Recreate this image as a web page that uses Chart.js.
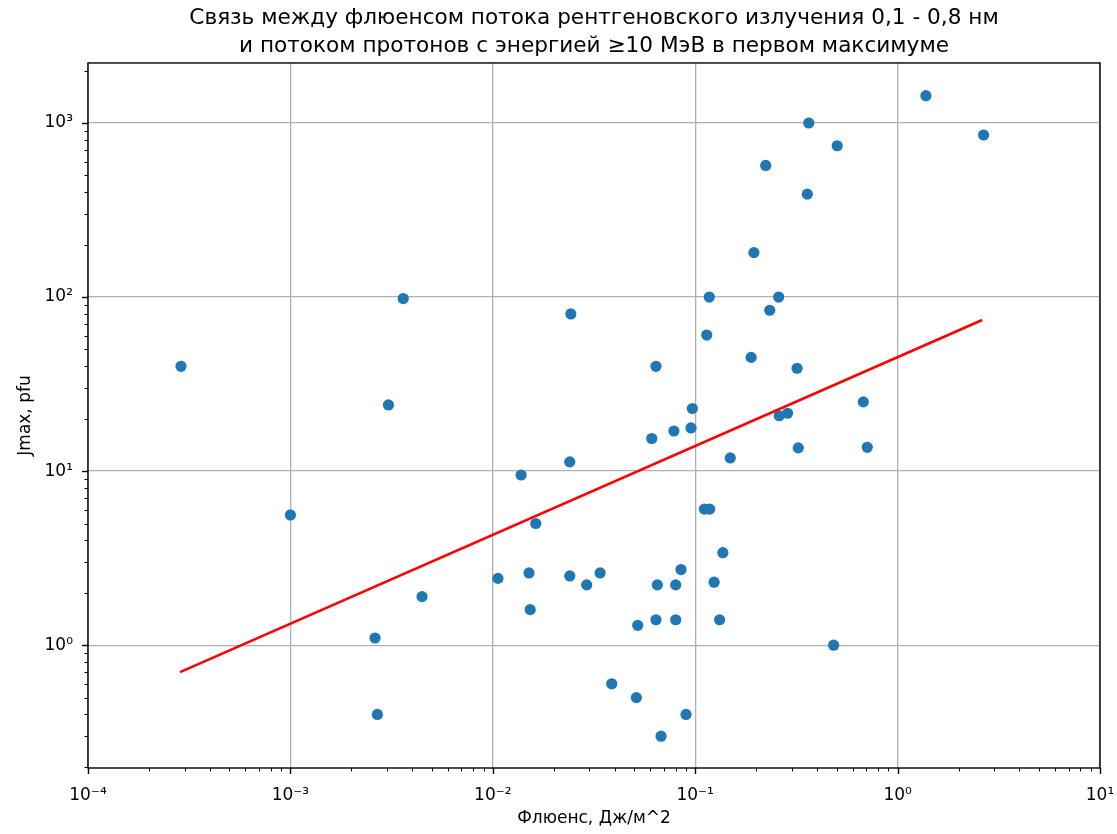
<!DOCTYPE html>
<html>
<head>
<meta charset="utf-8">
<script src="https://cdn.jsdelivr.net/npm/chart.js@4/dist/chart.umd.min.js"></script>
<style>
  html, body { margin: 0; padding: 0; background: #fff; }
  #wrap { width: 1117px; height: 834px; }
</style>
</head>
<body>
<div id="wrap"><canvas id="c" width="1117" height="834"></canvas></div>
<script>
// fluence (J/m^2) and peak proton flux (pfu)
const fluence = [
  2.88e-4, 1.0e-3, 2.62e-3, 2.69e-3, 3.05e-3, 3.61e-3, 4.47e-3,
  0.0106, 0.0138, 0.0151, 0.0153, 0.0163, 0.0240, 0.0240, 0.0243, 0.0291, 0.0339, 0.0387,
  0.0512, 0.0520, 0.0610, 0.0640, 0.0640, 0.0650, 0.0678, 0.0785, 0.0801, 0.0801, 0.0851,
  0.0901, 0.0953, 0.0968, 0.111, 0.118, 0.114, 0.1174, 0.124, 0.132, 0.137, 0.149,
  0.189, 0.195, 0.223, 0.2335, 0.2585, 0.260, 0.286, 0.3186, 0.323, 0.358, 0.364,
  0.483, 0.503, 0.677, 0.708, 1.38, 2.66
];
const jmax = [
  40, 5.6, 1.1, 0.40, 24, 98, 1.9,
  2.42, 9.5, 2.6, 1.6, 5.0, 11.3, 2.5, 80, 2.22, 2.6, 0.6,
  0.5, 1.3, 15.4, 1.4, 40, 2.22, 0.3, 17, 2.22, 1.4, 2.72,
  0.4, 17.7, 22.9, 6.05, 6.05, 60.5, 100, 2.3, 1.4, 3.4, 11.9,
  45, 180, 570, 84, 100, 20.8, 21.5, 39, 13.6, 390, 1000,
  1.0, 740, 25, 13.7, 1435, 853
];
// fitted power law, end points
const fitX = [2.85e-4, 2.62];
const fitY = [0.70, 73.8];

const xTickValues = [1e-4, 1e-3, 1e-2, 1e-1, 1, 10];
const xTickLabels = ['10⁻⁴', '10⁻³', '10⁻²', '10⁻¹', '10⁰', '10¹'];
const yTickValues = [1, 10, 100, 1000];
const yTickLabels = ['10⁰', '10¹', '10²', '10³'];

const FONT = 'DejaVu Sans';

// major ticks at decades + minor ticks 2..9 inside the axis range
function logTicks(min, max, majors) {
  const out = [];
  const lo = Math.floor(Math.log10(min)), hi = Math.ceil(Math.log10(max));
  for (let e = lo; e <= hi; e++) {
    for (let m = 1; m <= 9; m++) {
      const v = m * Math.pow(10, e);
      if (v < min * 0.999 || v > max * 1.001) continue;
      const maj = m === 1 ? majors.find(t => Math.abs(t - v) / v < 1e-9) : undefined;
      out.push({ value: maj !== undefined ? maj : v, major: maj !== undefined });
    }
  }
  return out;
}

function labelFor(values, labels) {
  return function(value) {
    const i = values.findIndex(t => Math.abs(t - value) / t < 1e-9);
    return i >= 0 ? labels[i] : '';
  };
}

const frame = {
  id: 'frame',
  afterDraw(chart) {
    const { ctx, chartArea: a, scales } = chart;
    ctx.save();
    ctx.strokeStyle = '#000';
    scales.x.ticks.forEach(t => {
      const px = Math.round(scales.x.getPixelForValue(t.value)) + 0.5;
      ctx.lineWidth = t.major ? 1.4 : 1;
      ctx.beginPath();
      ctx.moveTo(px, a.bottom);
      ctx.lineTo(px, a.bottom + (t.major ? 6 : 3.5));
      ctx.stroke();
    });
    scales.y.ticks.forEach(t => {
      const py = Math.round(scales.y.getPixelForValue(t.value)) + 0.5;
      ctx.lineWidth = t.major ? 1.4 : 1;
      ctx.beginPath();
      ctx.moveTo(a.left, py);
      ctx.lineTo(a.left - (t.major ? 6 : 3.5), py);
      ctx.stroke();
    });
    ctx.lineWidth = 1.4;
    ctx.strokeRect(a.left, a.top, a.right - a.left, a.bottom - a.top);
    ctx.restore();
  }
};

const gridColor = c => (c.tick && c.tick.major) ? '#b0b0b0' : 'rgba(0,0,0,0)';

new Chart(document.getElementById('c'), {
  type: 'scatter',
  data: {
    datasets: [
      {
        label: 'fit',
        data: fitX.map((x, i) => ({ x, y: fitY[i] })),
        showLine: true,
        borderColor: '#ff0000',
        borderWidth: 2.6,
        pointRadius: 0,
        order: 0
      },
      {
        label: 'events',
        data: fluence.map((x, i) => ({ x, y: jmax[i] })),
        backgroundColor: '#1f77b4',
        borderWidth: 0,
        pointRadius: 5.6,
        order: 1
      }
    ]
  },
  options: {
    responsive: false,
    animation: false,
    layout: { padding: { left: 0, right: 17, top: 0, bottom: 0 } },
    plugins: {
      legend: { display: false },
      tooltip: { enabled: false },
      title: {
        display: true,
        fullSize: false,
        text: ['Связь между флюенсом потока рентгеновского излучения 0,1 - 0,8 нм',
               'и потоком протонов с энергией ≥10 МэВ в первом максимуме'],
        color: '#000',
        font: { family: FONT, size: 21.6, weight: 'normal', lineHeight: 1.3 },
        padding: { top: 4, bottom: 2.8 }
      }
    },
    scales: {
      x: {
        type: 'logarithmic',
        min: 1e-4,
        max: 10,
        afterBuildTicks: s => { s.ticks = logTicks(s.min, s.max, xTickValues); },
        afterFit: s => { s.height = 66; s.paddingLeft = 0; s.paddingRight = 0; },
        grid: { color: gridColor, lineWidth: 1.3, drawTicks: true, tickLength: 6, tickColor: 'rgba(0,0,0,0)' },
        border: { display: false },
        ticks: {
          autoSkip: false, maxRotation: 0, padding: 11, color: '#000',
          font: { family: FONT, size: 17 },
          callback: labelFor(xTickValues, xTickLabels)
        },
        title: {
          display: true, text: 'Флюенс, Дж/м^2', color: '#000',
          font: { family: FONT, size: 17 }, padding: { top: 0, bottom: 5 }
        }
      },
      y: {
        type: 'logarithmic',
        min: 0.197,
        max: 2212,
        afterBuildTicks: s => { s.ticks = logTicks(s.min, s.max, yTickValues); },
        afterFit: s => { s.width = 88; s.paddingTop = 0; s.paddingBottom = 0; },
        grid: { color: gridColor, lineWidth: 1.3, drawTicks: true, tickLength: 6, tickColor: 'rgba(0,0,0,0)' },
        border: { display: false },
        ticks: {
          autoSkip: false, padding: 9, color: '#000',
          font: { family: FONT, size: 17 },
          callback: labelFor(yTickValues, yTickLabels)
        },
        title: {
          display: true, text: 'Jmax, pfu', color: '#000',
          font: { family: FONT, size: 17 }, padding: { top: 15, bottom: 0 }
        }
      }
    }
  },
  plugins: [frame]
});
</script>
</body>
</html>
